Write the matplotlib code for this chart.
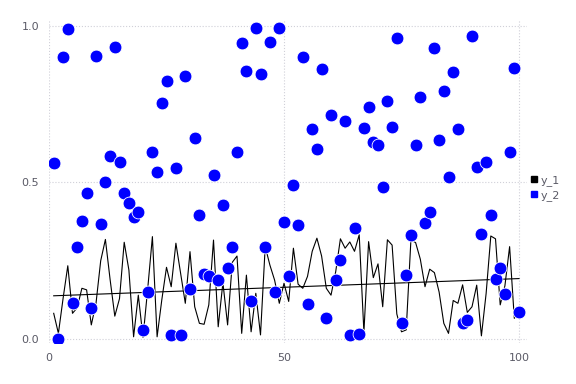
import numpy as np
import matplotlib.pyplot as plt
from matplotlib.lines import Line2D

# x positions 1..100
x = np.arange(1, 101)

# noisy series (black line)
y_1 = [0.082, 0.018, 0.13, 0.234, 0.082, 0.1, 0.162, 0.157, 0.045, 0.114,
       0.25, 0.318, 0.19, 0.073, 0.129, 0.309, 0.22, 0.007, 0.14, 0.005,
       0.16, 0.327, 0.007, 0.125, 0.229, 0.167, 0.306, 0.21, 0.114, 0.279,
       0.103, 0.05, 0.047, 0.109, 0.316, 0.039, 0.18, 0.045, 0.245, 0.265,
       0.018, 0.204, 0.023, 0.146, 0.013, 0.295, 0.236, 0.188, 0.114, 0.178,
       0.12, 0.29, 0.175, 0.162, 0.2, 0.28, 0.322, 0.265, 0.162, 0.14,
       0.215, 0.32, 0.29, 0.31, 0.28, 0.333, 0.022, 0.311, 0.196, 0.24,
       0.103, 0.317, 0.3, 0.08, 0.023, 0.029, 0.316, 0.308, 0.255, 0.167,
       0.223, 0.212, 0.15, 0.05, 0.018, 0.123, 0.114, 0.173, 0.085, 0.103,
       0.172, 0.01, 0.145, 0.329, 0.32, 0.109, 0.17, 0.295, 0.066, 0.085]

# scatter series (blue dots)
y_2 = [0.562, 0.0, 0.902, 0.991, 0.114, 0.293, 0.378, 0.467, 0.098, 0.905,
       0.366, 0.503, 0.585, 0.932, 0.565, 0.465, 0.433, 0.391, 0.407, 0.029,
       0.151, 0.598, 0.534, 0.755, 0.824, 0.013, 0.545, 0.013, 0.84, 0.159,
       0.641, 0.397, 0.207, 0.202, 0.524, 0.188, 0.428, 0.226, 0.293, 0.598,
       0.945, 0.856, 0.122, 0.994, 0.847, 0.293, 0.95, 0.15, 0.994, 0.373,
       0.202, 0.492, 0.364, 0.902, 0.111, 0.671, 0.606, 0.862, 0.066, 0.717,
       0.188, 0.252, 0.697, 0.013, 0.354, 0.016, 0.675, 0.74, 0.63, 0.621,
       0.487, 0.761, 0.678, 0.963, 0.05, 0.204, 0.332, 0.62, 0.774, 0.372,
       0.407, 0.929, 0.636, 0.793, 0.517, 0.852, 0.672, 0.052, 0.061, 0.968,
       0.548, 0.335, 0.566, 0.396, 0.192, 0.228, 0.145, 0.597, 0.866, 0.085]

# linear trend of y_1 (end points)
trend_x = [1, 100]
trend_y = [0.138, 0.193]

xticks = [0, 50, 100]
yticks = [0.0, 0.5, 1.0]
ytick_labels = ['0.0', '0.5', '1.0']

fig = plt.figure(figsize=(5.76, 3.84), dpi=100)
ax = fig.add_axes([49/576, 1 - 343/384, (527 - 49)/576, (343 - 20)/384])

ax.plot(x, y_1, color='black', lw=0.8, zorder=2)
ax.plot(trend_x, trend_y, color='black', lw=0.8, zorder=2)
ax.scatter(x, y_2, s=85, color='blue', edgecolors='white', linewidths=0.6, zorder=3)

ax.set_xlim(0, 101.7)
ax.set_ylim(-0.0128, 1.019)
ax.set_xticks(xticks)
ax.set_yticks(yticks)
ax.set_yticklabels(ytick_labels)
ax.tick_params(length=0, labelsize=8, labelcolor='#5a5a66', pad=7)
ax.grid(True, color='#d0d0d8', linestyle=':', lw=0.8)
for s in ax.spines.values():
    s.set_visible(False)

handles = [Line2D([], [], marker='s', color='black', ls='none', markersize=4.5),
           Line2D([], [], marker='s', color='blue', ls='none', markersize=4.5)]
leg = fig.legend(handles, ['y_1', 'y_2'], loc='upper left',
                 bbox_to_anchor=(531/576, 1 - 175/384), frameon=False,
                 fontsize=8, handlelength=0.5, handletextpad=0.4,
                 labelspacing=0.35, borderpad=0.0, borderaxespad=0.0)
for t in leg.get_texts():
    t.set_color('#5a5a66')

fig.savefig('out.png', dpi=100)
